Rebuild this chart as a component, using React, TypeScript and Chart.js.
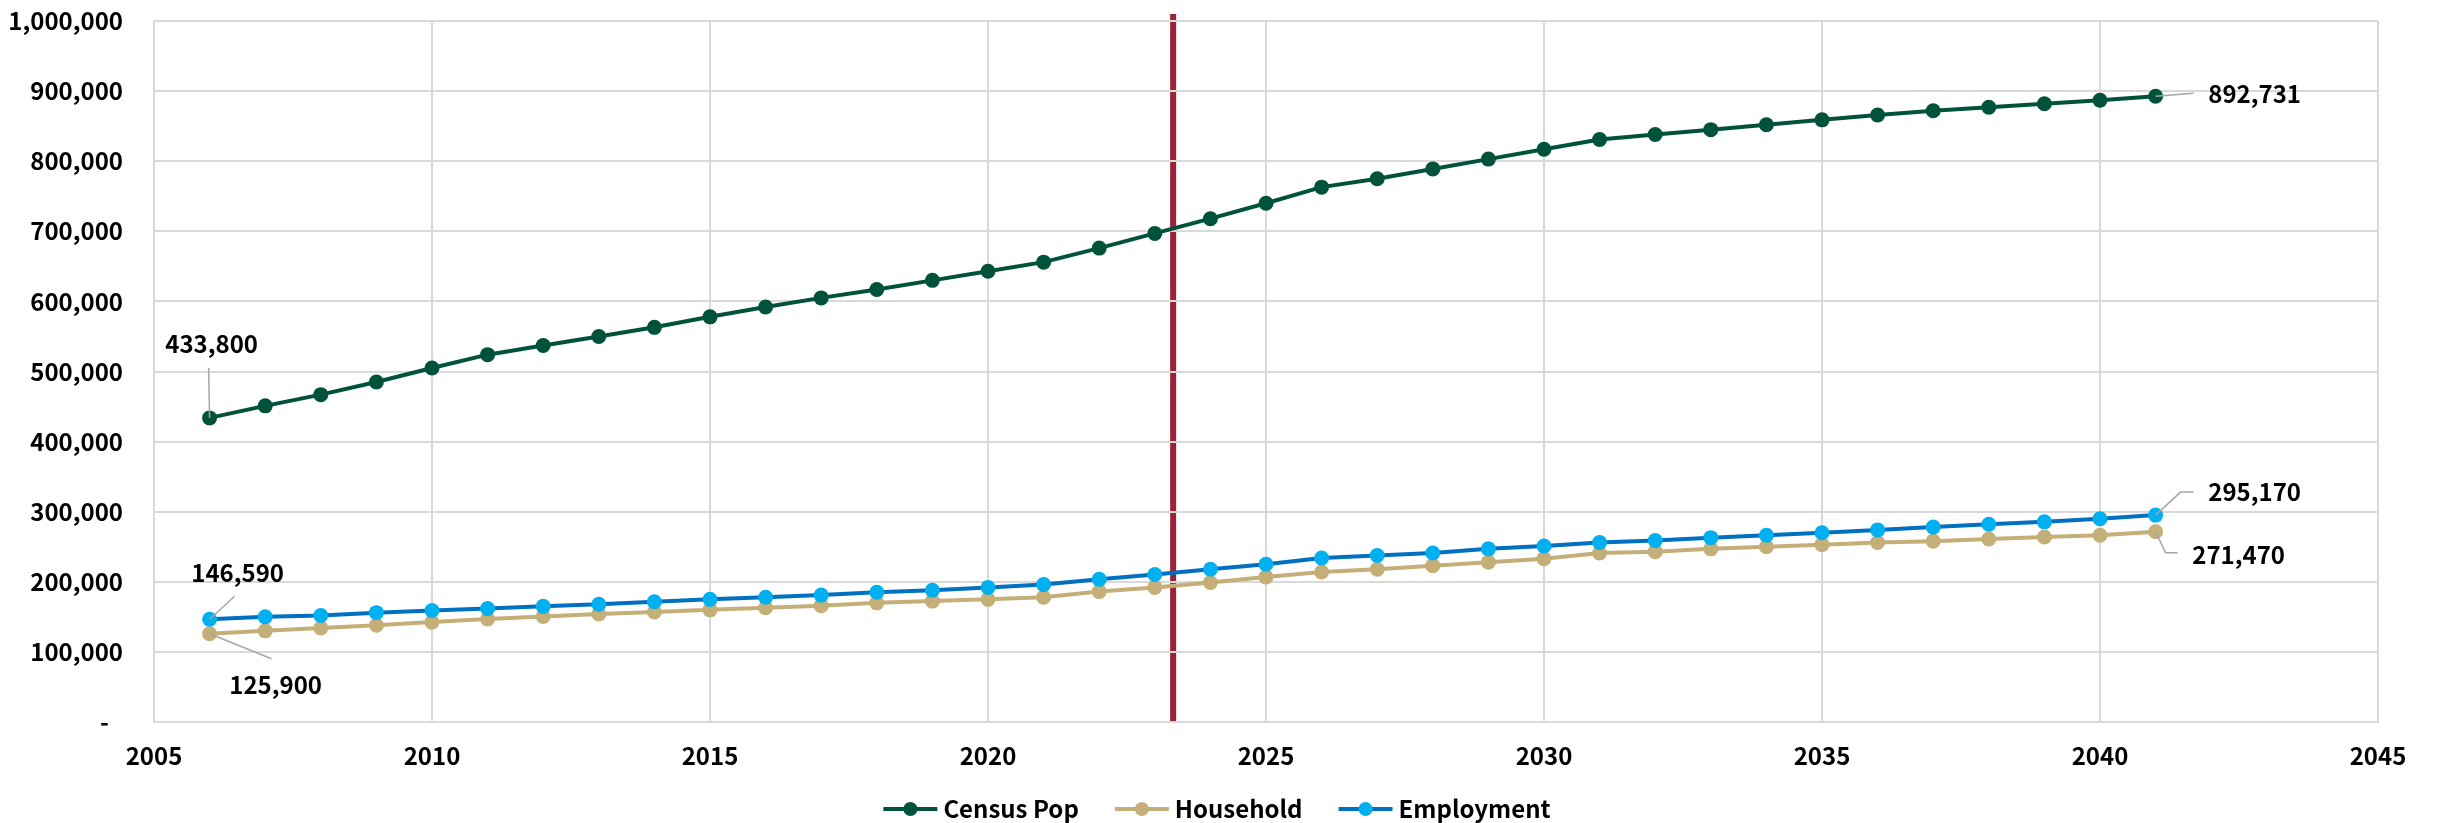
import React, { useEffect, useRef } from "react";
import { Chart, registerables } from "chart.js";

Chart.register(...registerables);

const FONT = "'Noto Sans CJK JP', 'Noto Sans', 'Liberation Sans', sans-serif";

const years = [
  2006, 2007, 2008, 2009, 2010, 2011, 2012, 2013, 2014, 2015, 2016, 2017,
  2018, 2019, 2020, 2021, 2022, 2023, 2024, 2025, 2026, 2027, 2028, 2029,
  2030, 2031, 2032, 2033, 2034, 2035, 2036, 2037, 2038, 2039, 2040, 2041,
];

const censusPop = [
  433800, 451000, 467000, 485000, 505000, 524000, 537000, 550000, 563000,
  578000, 592000, 605000, 617000, 630000, 643000, 656000, 676000, 697000,
  718000, 740000, 763000, 775000, 789000, 803000, 817000, 831000, 838000,
  845000, 852000, 859000, 866000, 872000, 877000, 882000, 887000, 892731,
];

const household = [
  125900, 130000, 134000, 138000, 142500, 147000, 150500, 154000, 157000,
  160000, 163000, 166000, 170000, 172500, 175000, 178000, 186000, 192000,
  199000, 207000, 214000, 218000, 223000, 228000, 233000, 241000, 243000,
  247000, 250000, 253000, 256000, 258000, 261000, 264000, 266500, 271470,
];

const employment = [
  146590, 150000, 152000, 156000, 159000, 162000, 165000, 168000, 171500,
  175000, 178000, 181000, 185000, 188000, 192000, 196000, 203500, 210500,
  218000, 225000, 234000, 237500, 241000, 247000, 251000, 256000, 259000,
  263000, 266500, 270000, 274000, 278000, 282000, 285500, 290000, 295170,
];

const xTicks = [2005, 2010, 2015, 2020, 2025, 2030, 2035, 2040, 2045];
const yTicks = [
  0, 100000, 200000, 300000, 400000, 500000, 600000, 700000, 800000, 900000,
  1000000,
];

const seriesNames = ["Census Pop", "Household", "Employment"];
const baseYear = 2023.33;
const baseLineTop = 1010000;

const COLORS = {
  census: { line: "#00533A", point: "#00533A" },
  household: { line: "#C5AF78", point: "#C5AF78" },
  employment: { line: "#0070C0", point: "#00B0F0" },
};

const fmt = (v: number) => v.toLocaleString("en-US");

// label placement (pixel offsets from the point) and leader polylines
const labelSpecs = [
  { ds: 0, i: 0, dx: 2, dy: -74, leader: [[-1, -50], [0, 0]] },
  { ds: 2, i: 0, dx: 28, dy: -46, leader: [[25, -23], [0, 0]] },
  { ds: 1, i: 0, dx: 66, dy: 51, leader: [[0, 0], [62, 25]] },
  { ds: 0, i: 35, dx: 99, dy: -2, leader: [[0, 0], [38, -3]] },
  { ds: 2, i: 35, dx: 99, dy: -23, leader: [[0, 0], [25, -23], [38, -23]] },
  { ds: 1, i: 35, dx: 83, dy: 23, leader: [[0, 0], [10, 21], [22, 21]] },
];

const baseLinePlugin = {
  id: "baseLine",
  beforeDraw(chart: any) {
    const { ctx, scales } = chart;
    const x = scales.x.getPixelForValue(baseYear);
    const top = scales.y.getPixelForValue(baseLineTop);
    const bottom = scales.y.getPixelForValue(0);
    ctx.save();
    ctx.strokeStyle = "#9B2335";
    ctx.lineWidth = 6;
    ctx.beginPath();
    ctx.moveTo(x, top);
    ctx.lineTo(x, bottom);
    ctx.stroke();
    ctx.restore();
  },
};

const dataLabelPlugin = {
  id: "dataLabels",
  afterDatasetsDraw(chart: any) {
    const ctx = chart.ctx;
    ctx.save();
    for (const s of labelSpecs) {
      const meta = chart.getDatasetMeta(s.ds);
      const el = meta.data[s.i];
      if (!el) continue;
      const px = el.x;
      const py = el.y;
      ctx.strokeStyle = "#A6A6A6";
      ctx.lineWidth = 1.5;
      ctx.beginPath();
      s.leader.forEach((p, k) => {
        if (k === 0) ctx.moveTo(px + p[0], py + p[1]);
        else ctx.lineTo(px + p[0], py + p[1]);
      });
      ctx.stroke();
      const value = chart.data.datasets[s.ds].data[s.i];
      ctx.fillStyle = "#000";
      ctx.font = `bold 24px ${FONT}`;
      ctx.textAlign = "center";
      ctx.textBaseline = "middle";
      ctx.fillText(fmt(value.y), px + s.dx, py + s.dy);
    }
    ctx.restore();
  },
};

const legendPlugin = {
  id: "customLegend",
  afterDraw(chart: any) {
    const ctx = chart.ctx;
    const items = chart.data.datasets.map((d: any) => ({
      label: d.label,
      line: d.borderColor,
      point: d.pointBackgroundColor,
    }));
    ctx.save();
    ctx.font = `bold 24px ${FONT}`;
    const lineLen = 54;
    const gapText = 6;
    const gapItem = 36;
    const widths = items.map(
      (it: any) => lineLen + gapText + ctx.measureText(it.label).width
    );
    const total =
      widths.reduce((a: number, b: number) => a + b, 0) +
      gapItem * (items.length - 1);
    let x = chart.width / 2 - total / 2 - 2;
    const y = chart.height - 14;
    items.forEach((it: any, k: number) => {
      ctx.strokeStyle = it.line;
      ctx.lineWidth = 4;
      ctx.beginPath();
      ctx.moveTo(x, y);
      ctx.lineTo(x + lineLen, y);
      ctx.stroke();
      ctx.fillStyle = it.point;
      ctx.beginPath();
      ctx.arc(x + lineLen / 2, y, 7, 0, Math.PI * 2);
      ctx.fill();
      ctx.fillStyle = "#000";
      ctx.textAlign = "left";
      ctx.textBaseline = "middle";
      ctx.fillText(it.label, x + lineLen + gapText, y);
      x += widths[k] + gapItem;
    });
    ctx.restore();
  },
};

const W = 2438;
const H = 823;

export default function App() {
  const ref = useRef<HTMLCanvasElement>(null);

  useEffect(() => {
    document.body.style.margin = "0";
    if (!ref.current) return;
    const toXY = (arr: number[]) => arr.map((v, i) => ({ x: years[i], y: v }));
    const mk = (label: string, data: number[], c: any, order: number) => ({
      label,
      data: toXY(data),
      borderColor: c.line,
      backgroundColor: c.point,
      pointBackgroundColor: c.point,
      pointBorderColor: c.point,
      pointBorderWidth: 0,
      pointRadius: 7.5,
      borderWidth: 4,
      tension: 0,
      order,
    });
    const chart = new Chart(ref.current, {
      type: "line",
      data: {
        datasets: [
          mk(seriesNames[0], censusPop, COLORS.census, 2),
          mk(seriesNames[1], household, COLORS.household, 1),
          mk(seriesNames[2], employment, COLORS.employment, 0),
        ],
      },
      options: {
        animation: false,
        responsive: false,
        layout: { padding: { top: 21, right: 60, left: 0, bottom: 0 } },
        plugins: {
          legend: { display: false },
          tooltip: { enabled: false },
        },
        scales: {
          x: {
            type: "linear",
            min: 2005,
            max: 2045,
            afterBuildTicks: (s: any) => {
              s.ticks = xTicks.map((v) => ({ value: v }));
            },
            afterFit: (s: any) => {
              s.height = 101;
              s.paddingLeft = 0;
              s.paddingRight = 0;
            },
            ticks: {
              autoSkip: false,
              maxRotation: 0,
              callback: (v: any) => String(v),
              color: "#000",
              padding: 22,
              font: { family: FONT, size: 24, weight: "bold", lineHeight: 1 },
            },
            grid: { color: "#D9D9D9", lineWidth: 2, drawTicks: false },
            border: { color: "#D9D9D9", width: 2 },
          },
          y: {
            type: "linear",
            min: 0,
            max: 1000000,
            afterBuildTicks: (s: any) => {
              s.ticks = yTicks.map((v) => ({ value: v }));
            },
            afterFit: (s: any) => {
              s.width = 154;
              s.paddingTop = 0;
              s.paddingBottom = 0;
            },
            ticks: {
              callback: (v: any) => (v === 0 ? "-\u2007" : fmt(v)),
              color: "#000",
              padding: 31,
              font: { family: FONT, size: 24, weight: "bold", lineHeight: 1 },
            },
            grid: { color: "#D9D9D9", lineWidth: 2, drawTicks: false },
            border: { color: "#D9D9D9", width: 2 },
          },
        },
      } as any,
      plugins: [baseLinePlugin, dataLabelPlugin, legendPlugin],
    });
    return () => chart.destroy();
  }, []);

  return (
    <div style={{ width: W, height: H }}>
      <canvas
        ref={ref}
        width={W}
        height={H}
        style={{ display: "block", width: W, height: H }}
      />
    </div>
  );
}
